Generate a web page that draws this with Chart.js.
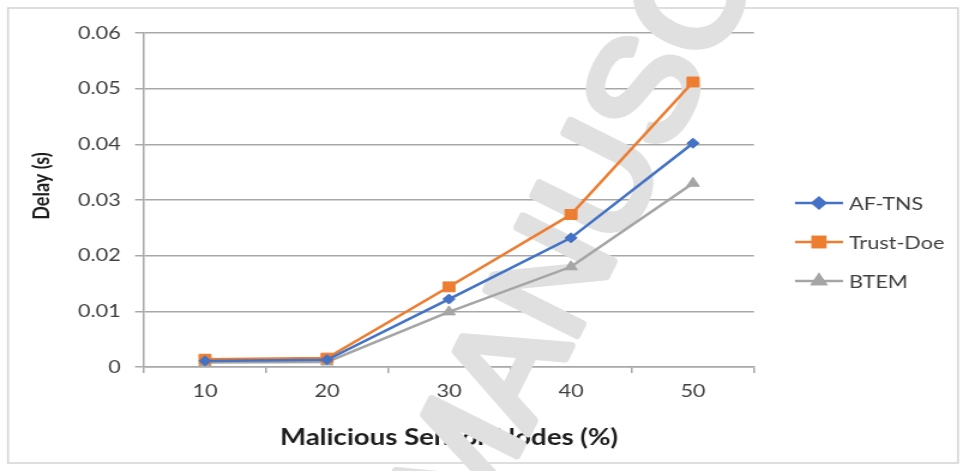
<!DOCTYPE html>
<html>
<head>
<meta charset="utf-8">
<script src="https://cdn.jsdelivr.net/npm/chart.js@4.4.1/dist/chart.umd.min.js"></script>
<style>
  html, body { margin: 0; padding: 0; background: #ffffff; }
</style>
</head>
<body>
<canvas id="c" width="803" height="471" style="display:block;width:963px;height:471px"></canvas>
<script>
// Categories and series (delay in seconds)
const categories = ['10', '20', '30', '40', '50'];
const afTns    = [0.0011, 0.0013, 0.0122, 0.0232, 0.0402];
const trustDoe = [0.0014, 0.0016, 0.0144, 0.0274, 0.0512];
const btem     = [0.0008, 0.0009, 0.0099, 0.0180, 0.0330];
const yTickLabels = ['0', '0.01', '0.02', '0.03', '0.04', '0.05', '0.06'];
const seriesNames = ['AF-TNS', 'Trust-Doe', 'BTEM'];

// The canvas is drawn narrower and widened by CSS
const SX = 963 / 803;
const FONT = 'Lato, "Open Sans", sans-serif';
const gridColor = '#a8a8a8';
const textColor = '#404040';
const titleColor = '#1e1e1e';

// White page with a thin frame, plus the vertical axis title
const framePlugin = {
  id: 'frame',
  beforeDraw(chart) {
    const ctx = chart.ctx;
    ctx.save();
    ctx.fillStyle = '#ffffff';
    ctx.fillRect(0, 0, chart.width, chart.height);
    ctx.strokeStyle = '#d4d4d4';
    ctx.lineWidth = 1.5;
    ctx.strokeRect(8 / SX, 8, 950 / SX, 455);
    ctx.translate(42 / SX, 186);
    ctx.rotate(-Math.PI / 2);
    ctx.font = 'bold 18px ' + FONT;
    ctx.fillStyle = titleColor;
    ctx.textAlign = 'center';
    ctx.textBaseline = 'middle';
    ctx.fillText('Delay (s)', 0, 0);
    ctx.restore();
  }
};

// Diagonal "MANUSCRIPT" stamp, laid over axes but under the series
const stampPlugin = {
  id: 'stamp',
  beforeDatasetsDraw(chart) {
    const ctx = chart.ctx;
    ctx.save();
    ctx.scale(1 / SX, 1);
    ctx.translate(473, 543);
    ctx.rotate(-63.5 * Math.PI / 180);
    ctx.font = '147px "Liberation Sans", Arial, sans-serif';
    ctx.fillStyle = '#e0e0e0';
    ctx.strokeStyle = '#e0e0e0';
    ctx.lineWidth = 8;
    ctx.lineJoin = 'round';
    ctx.textAlign = 'left';
    ctx.textBaseline = 'alphabetic';
    ctx.fillText('MANUSCRIPT', 0, 0);
    ctx.strokeText('MANUSCRIPT', 0, 0);
    ctx.restore();
  }
};

// Legend on the right: line with marker, then series name
const legendPlugin = {
  id: 'sideLegend',
  afterDraw(chart) {
    const ctx = chart.ctx;
    const x0 = 795 / SX, x1 = 843 / SX, xm = (x0 + x1) / 2, xt = 849 / SX;
    const rows = [203, 242, 281];
    chart.data.datasets.forEach((ds, i) => {
      const y = rows[i];
      ctx.save();
      ctx.strokeStyle = ds.borderColor;
      ctx.lineWidth = ds.borderWidth;
      ctx.beginPath();
      ctx.moveTo(x0, y);
      ctx.lineTo(x1, y);
      ctx.stroke();
      Chart.helpers.drawPoint(ctx, {
        pointStyle: ds.pointStyle,
        radius: ds.pointRadius,
        rotation: 0,
        borderWidth: 1
      }, xm, y);
      ctx.fillStyle = ds.pointBackgroundColor;
      ctx.strokeStyle = ds.pointBorderColor;
      ctx.fill();
      ctx.stroke();
      ctx.fillStyle = textColor;
      ctx.font = '18px ' + FONT;
      ctx.textBaseline = 'middle';
      ctx.textAlign = 'left';
      ctx.fillText(seriesNames[i], xt, y + 1);
      ctx.restore();
    });
  }
};

const colors = ['#4472c4', '#ed7d31', '#a5a5a5'];
const styles = ['rectRot', 'rect', 'triangle'];
const radii = [5, 7, 6];
const values = [afTns, trustDoe, btem];

new Chart(document.getElementById('c'), {
  type: 'line',
  data: {
    labels: categories,
    datasets: values.map((v, i) => ({
      label: seriesNames[i],
      data: v,
      borderColor: colors[i],
      backgroundColor: colors[i],
      pointBackgroundColor: colors[i],
      pointBorderColor: colors[i],
      pointStyle: styles[i],
      pointRadius: radii[i],
      pointBorderWidth: 1,
      borderWidth: 2.5,
      tension: 0,
      fill: false
    }))
  },
  options: {
    responsive: false,
    devicePixelRatio: 1,
    animation: false,
    layout: { padding: { top: 33, right: 803 - 754 / SX, bottom: 0, left: 0 } },
    plugins: {
      legend: { display: false },
      tooltip: { enabled: false }
    },
    scales: {
      x: {
        type: 'category',
        offset: true,
        grid: {
          display: true,
          drawOnChartArea: false,
          drawTicks: true,
          tickLength: 6,
          offset: true,
          color: gridColor,
          lineWidth: 1.5
        },
        border: { display: true, color: gridColor, width: 1.5 },
        ticks: {
          font: { family: FONT, size: 18 },
          color: textColor,
          padding: 7,
          maxRotation: 0,
          autoSkip: false
        },
        title: {
          display: true,
          text: 'Malicious Sensor Nodes (%)',
          font: { family: FONT, size: 23, weight: 'bold' },
          color: titleColor,
          padding: { top: 0, bottom: 20 }
        },
        afterFit(s) { s.height = 104; s.paddingLeft = 0; s.paddingRight = 0; }
      },
      y: {
        min: 0,
        max: 0.06,
        ticks: {
          stepSize: 0.01,
          callback: (v) => yTickLabels[Math.round(v / 0.01)],
          font: { family: FONT, size: 18 },
          color: textColor,
          padding: 12
        },
        grid: { color: gridColor, lineWidth: 1.5, tickLength: 7.5, drawTicks: true },
        border: { display: true, color: gridColor, width: 1.5 },
        title: { display: false },
        afterFit(s) { s.width = 144 / SX; s.paddingTop = 0; s.paddingBottom = 0; }
      }
    }
  },
  plugins: [framePlugin, stampPlugin, legendPlugin]
});
</script>
</body>
</html>
